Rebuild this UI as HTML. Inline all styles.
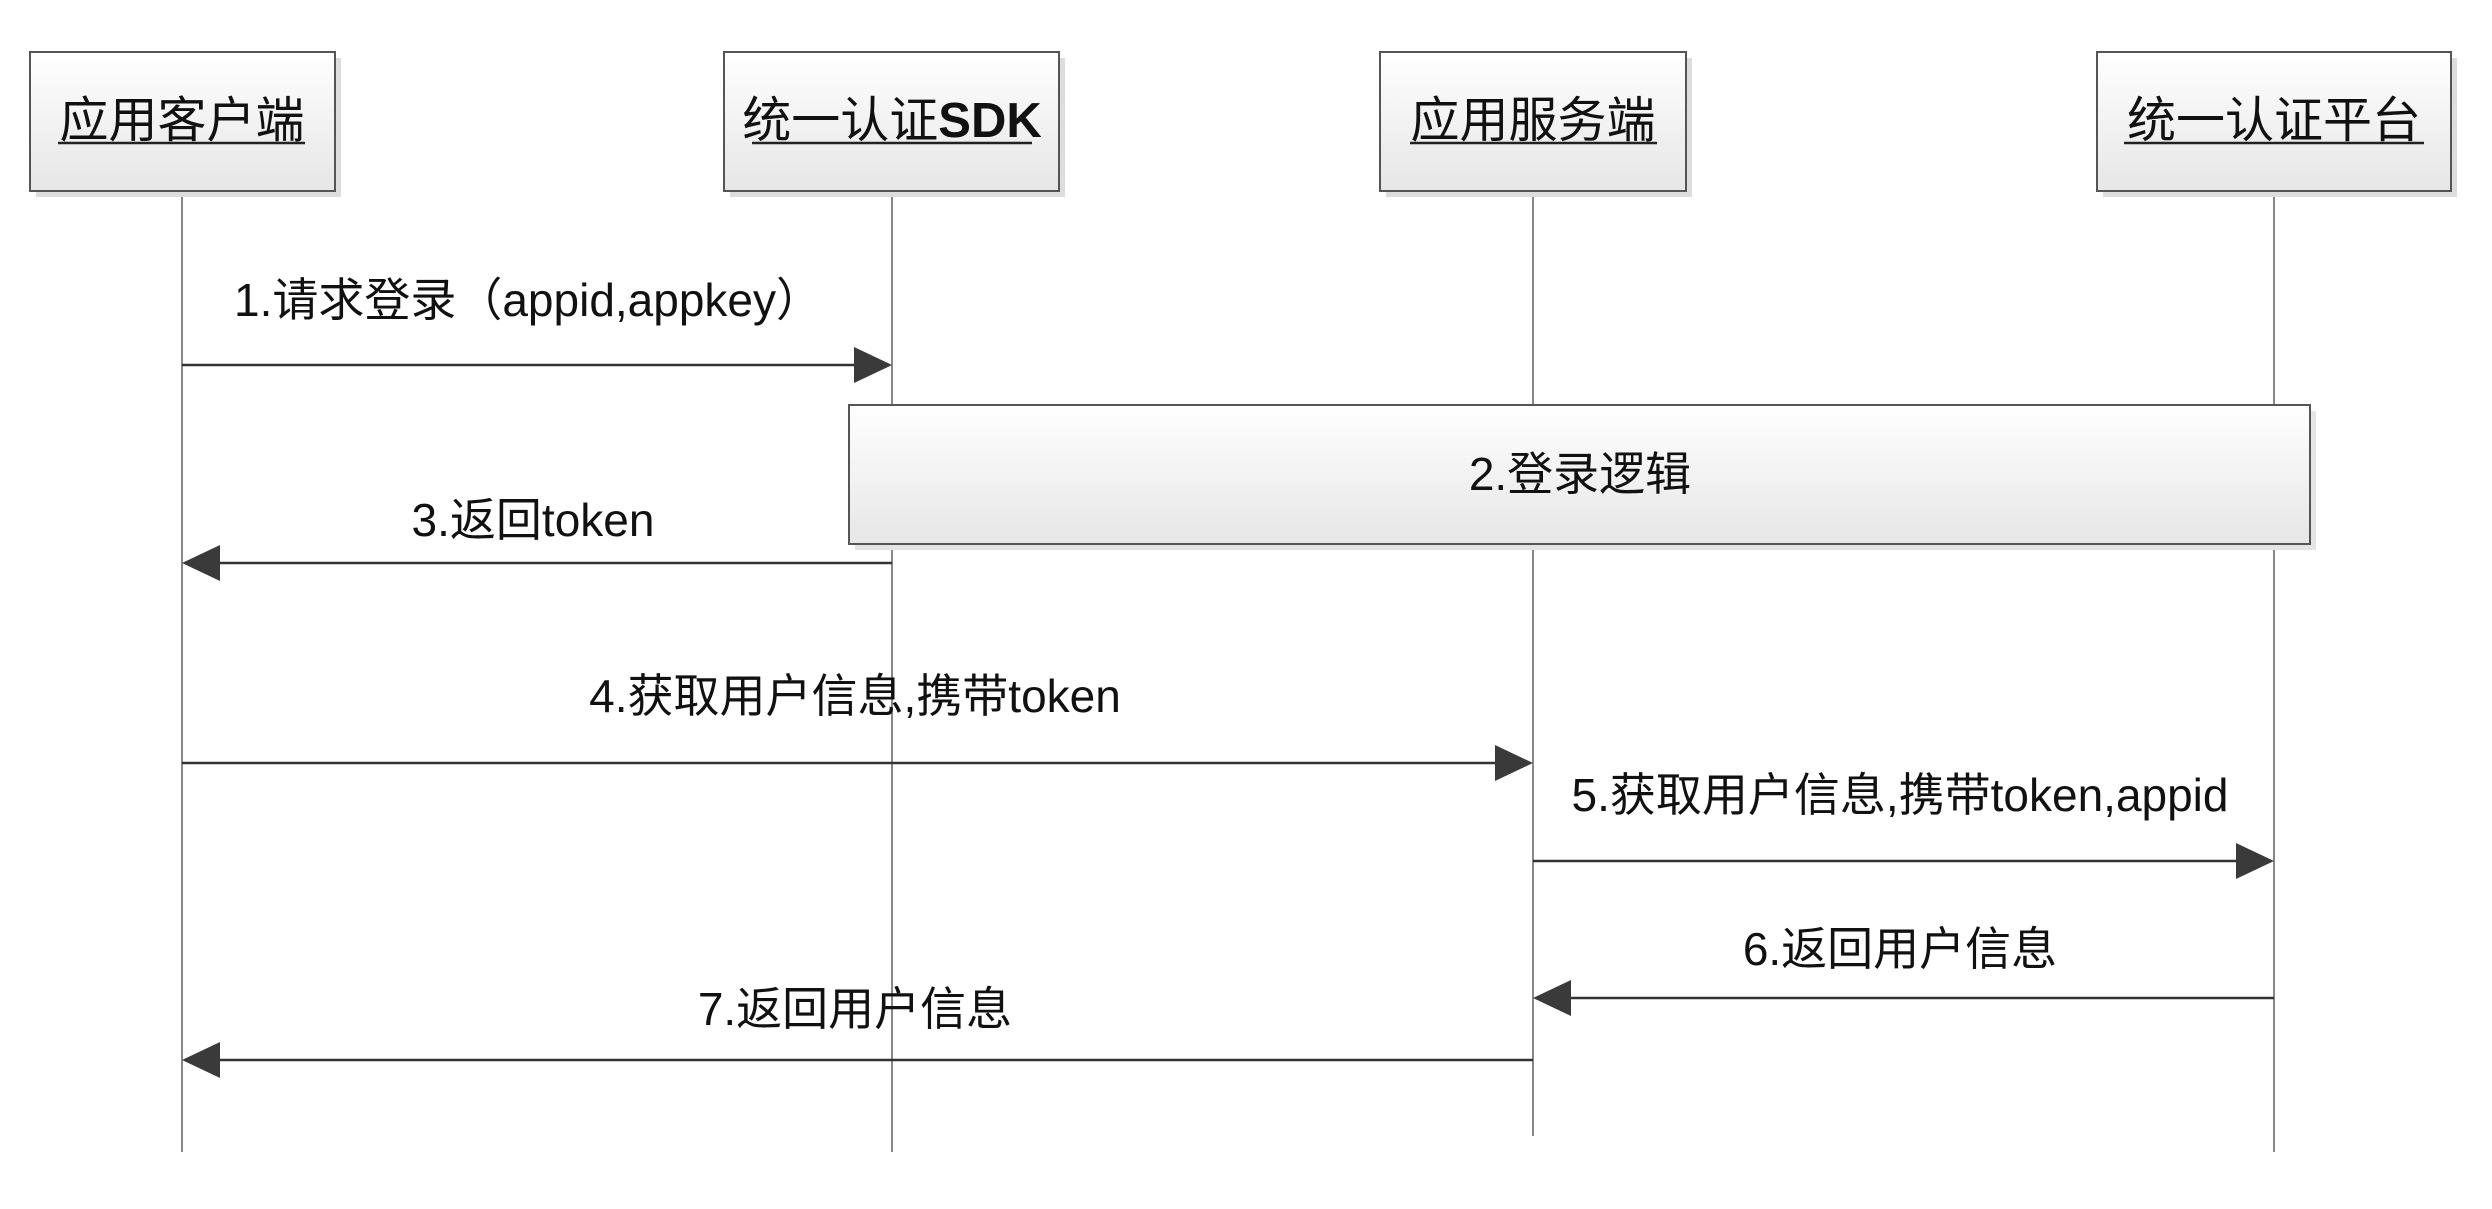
<!DOCTYPE html>
<html><head><meta charset="utf-8"><style>
html,body{margin:0;padding:0;background:#fff;}
svg{display:block;}
text{font-family:"Liberation Sans","Noto Sans CJK SC",sans-serif;fill:#111;}
</style></head><body>
<svg width="2492" height="1209" viewBox="0 0 2492 1209" xmlns="http://www.w3.org/2000/svg">
<defs>
<linearGradient id="g" x1="0" y1="0" x2="0" y2="1">
<stop offset="0" stop-color="#ffffff"/><stop offset="1" stop-color="#e6e6e6"/>
</linearGradient>
</defs>
<g stroke="#888" stroke-width="2">
<line x1="182" y1="191" x2="182" y2="1152"/>
<line x1="892" y1="191" x2="892" y2="1152"/>
<line x1="1533" y1="191" x2="1533" y2="1136"/>
<line x1="2274" y1="191" x2="2274" y2="1152"/>
</g>
<g>
<rect x="36" y="58" width="305" height="139" fill="#ddd"/>
<rect x="30" y="52" width="305" height="139" fill="url(#g)" stroke="#555" stroke-width="2"/>
<rect x="730" y="58" width="335" height="139" fill="#ddd"/>
<rect x="724" y="52" width="335" height="139" fill="url(#g)" stroke="#555" stroke-width="2"/>
<rect x="1386" y="58" width="306" height="139" fill="#ddd"/>
<rect x="1380" y="52" width="306" height="139" fill="url(#g)" stroke="#555" stroke-width="2"/>
<rect x="2103" y="58" width="354" height="139" fill="#ddd"/>
<rect x="2097" y="52" width="354" height="139" fill="url(#g)" stroke="#555" stroke-width="2"/>
</g>
<g font-size="49" text-anchor="middle">
<text x="182" y="137">应用客户端</text>
<text x="892" y="137">统一认证<tspan font-weight="bold">SDK</tspan></text>
<text x="1533" y="137">应用服务端</text>
<text x="2274" y="137">统一认证平台</text>
</g>
<g stroke="#222" stroke-width="2.5">
<line x1="58" y1="143" x2="305" y2="143"/>
<line x1="752" y1="143" x2="1032" y2="143"/>
<line x1="1410" y1="143" x2="1657" y2="143"/>
<line x1="2124" y1="143" x2="2424" y2="143"/>
</g>
<rect x="855" y="411" width="1461" height="139" fill="#e4e4e4"/>
<rect x="849" y="405" width="1461" height="139" fill="url(#g)" stroke="#555" stroke-width="2"/>
<g stroke="#333" stroke-width="2.5">
<line x1="182" y1="365" x2="860" y2="365"/>
<line x1="892" y1="563" x2="214" y2="563"/>
<line x1="182" y1="763" x2="1500" y2="763"/>
<line x1="1533" y1="861" x2="2240" y2="861"/>
<line x1="2274" y1="998" x2="1566" y2="998"/>
<line x1="1533" y1="1060" x2="214" y2="1060"/>
</g>
<g fill="#3a3a3a">
<polygon points="892,365 854,347 854,383"/>
<polygon points="182,563 220,545 220,581"/>
<polygon points="1533,763 1495,745 1495,781"/>
<polygon points="2274,861 2236,843 2236,879"/>
<polygon points="1533,998 1571,980 1571,1016"/>
<polygon points="182,1060 220,1042 220,1078"/>
</g>
<g font-size="46" text-anchor="middle">
<text x="528" y="316">1.请求登录（appid,appkey）</text>
<text x="1580" y="490">2.登录逻辑</text>
<text x="533" y="536">3.返回token</text>
<text x="855" y="712">4.获取用户信息,携带token</text>
<text x="1900" y="811">5.获取用户信息,携带token,appid</text>
<text x="1900" y="965">6.返回用户信息</text>
<text x="855" y="1025">7.返回用户信息</text>
</g>
</svg>
</body></html>
